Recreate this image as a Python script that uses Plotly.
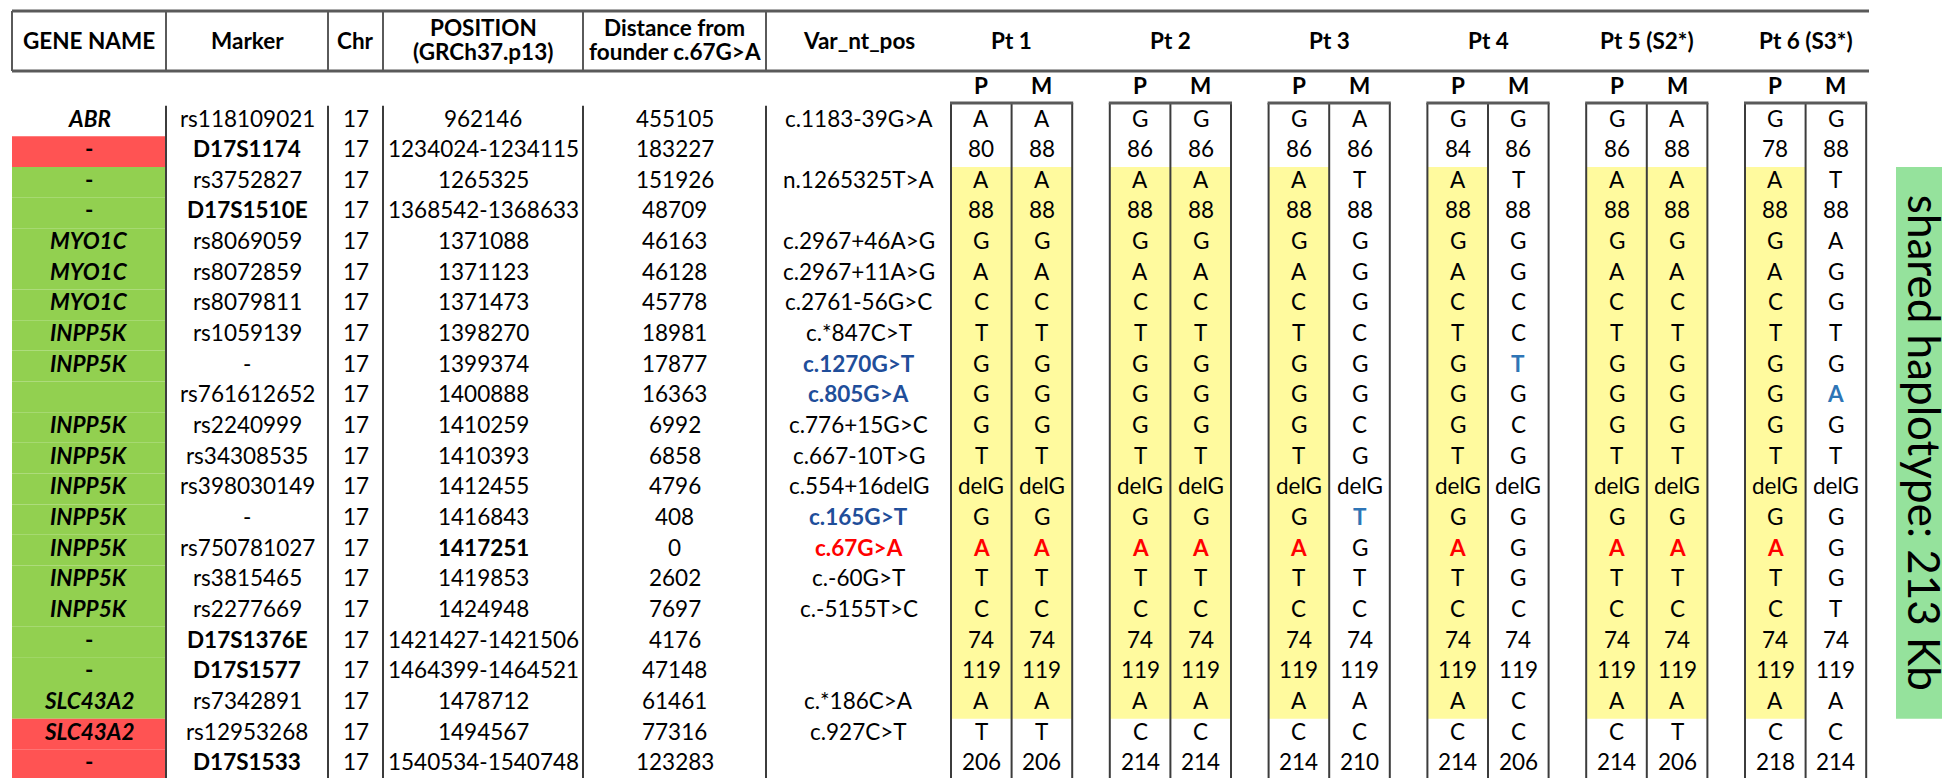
import plotly.graph_objects as go

# ---------------- data ----------------
genes = ["ABR", "-", "-", "-", "MYO1C", "MYO1C", "MYO1C", "INPP5K", "INPP5K", "",
         "INPP5K", "INPP5K", "INPP5K", "INPP5K", "INPP5K", "INPP5K", "INPP5K",
         "-", "-", "SLC43A2", "SLC43A2", "-"]
gene_status = ["none", "out", "in", "in", "in", "in", "in", "in", "in", "in",
               "in", "in", "in", "in", "in", "in", "in", "in", "in", "in", "out", "out"]
markers = ["rs118109021", "D17S1174", "rs3752827", "D17S1510E", "rs8069059", "rs8072859",
           "rs8079811", "rs1059139", "-", "rs761612652", "rs2240999", "rs34308535",
           "rs398030149", "-", "rs750781027", "rs3815465", "rs2277669", "D17S1376E",
           "D17S1577", "rs7342891", "rs12953268", "D17S1533"]
chrom = ["17", "17", "17", "17", "17", "17", "17", "17", "17", "17", "17",
         "17", "17", "17", "17", "17", "17", "17", "17", "17", "17", "17"]
positions = ["962146", "1234024-1234115", "1265325", "1368542-1368633", "1371088", "1371123",
             "1371473", "1398270", "1399374", "1400888", "1410259", "1410393", "1412455",
             "1416843", "1417251", "1419853", "1424948", "1421427-1421506", "1464399-1464521",
             "1478712", "1494567", "1540534-1540748"]
distances = ["455105", "183227", "151926", "48709", "46163", "46128", "45778", "18981", "17877",
             "16363", "6992", "6858", "4796", "408", "0", "2602", "7697", "4176", "47148",
             "61461", "77316", "123283"]
var_pos = ["c.1183-39G>A", "", "n.1265325T>A", "", "c.2967+46A>G", "c.2967+11A>G",
           "c.2761-56G>C", "c.*847C>T", "c.1270G>T", "c.805G>A", "c.776+15G>C", "c.667-10T>G",
           "c.554+16delG", "c.165G>T", "c.67G>A", "c.-60G>T", "c.-5155T>C", "", "",
           "c.*186C>A", "c.927C>T", ""]
var_style = ["", "", "", "", "", "", "", "", "blue", "blue", "", "", "", "blue", "red",
             "", "", "", "", "", "", ""]

patients = ["Pt 1", "Pt 2", "Pt 3", "Pt 4", "Pt 5 (S2*)", "Pt 6 (S3*)"]
pt1_P = ["A", "80", "A", "88", "G", "A", "C", "T", "G", "G", "G", "T", "delG", "G", "A", "T", "C", "74", "119", "A", "T", "206"]
pt1_M = ["A", "88", "A", "88", "G", "A", "C", "T", "G", "G", "G", "T", "delG", "G", "A", "T", "C", "74", "119", "A", "T", "206"]
pt2_P = ["G", "86", "A", "88", "G", "A", "C", "T", "G", "G", "G", "T", "delG", "G", "A", "T", "C", "74", "119", "A", "C", "214"]
pt2_M = ["G", "86", "A", "88", "G", "A", "C", "T", "G", "G", "G", "T", "delG", "G", "A", "T", "C", "74", "119", "A", "C", "214"]
pt3_P = ["G", "86", "A", "88", "G", "A", "C", "T", "G", "G", "G", "T", "delG", "G", "A", "T", "C", "74", "119", "A", "C", "214"]
pt3_M = ["A", "86", "T", "88", "G", "G", "G", "C", "G", "G", "C", "G", "delG", "T", "G", "T", "C", "74", "119", "A", "C", "210"]
pt4_P = ["G", "84", "A", "88", "G", "A", "C", "T", "G", "G", "G", "T", "delG", "G", "A", "T", "C", "74", "119", "A", "C", "214"]
pt4_M = ["G", "86", "T", "88", "G", "G", "C", "C", "T", "G", "C", "G", "delG", "G", "G", "G", "C", "74", "119", "C", "C", "206"]
pt5_P = ["G", "86", "A", "88", "G", "A", "C", "T", "G", "G", "G", "T", "delG", "G", "A", "T", "C", "74", "119", "A", "C", "214"]
pt5_M = ["A", "88", "A", "88", "G", "A", "C", "T", "G", "G", "G", "T", "delG", "G", "A", "T", "C", "74", "119", "A", "T", "206"]
pt6_P = ["G", "78", "A", "88", "G", "A", "C", "T", "G", "G", "G", "T", "delG", "G", "A", "T", "C", "74", "119", "A", "C", "218"]
pt6_M = ["G", "88", "T", "88", "A", "G", "G", "T", "G", "A", "G", "T", "delG", "G", "G", "G", "T", "74", "119", "A", "C", "214"]
alleles = [(pt1_P, pt1_M), (pt2_P, pt2_M), (pt3_P, pt3_M),
           (pt4_P, pt4_M), (pt5_P, pt5_M), (pt6_P, pt6_M)]
# rows carrying the shared haplotype, and which maternal alleles share it
shared_first, shared_last = 2, 19
maternal_shared = [True, True, False, False, True, False]
founder_row = 14
# newly found variants shown in blue: (patient index, allele, row)
blue_cells = [(3, "M", 8), (5, "M", 9), (2, "M", 13)]
haplotype_label = "shared haplotype: 213 Kb"

# ---------------- styling / geometry ----------------
FONT = "Lato"
FS = 22.5
W, H = 1950, 778
ROW0, ROWH = 113.0, 30.65
TXT_DY = -3.0
col_edges = [4, 158, 320, 375, 575, 758, 943]
PT_X0, PT_PITCH, PT_COLW = 943.0, 158.8, 60.6
HDR_TOP, HDR_BOT = 3, 63
BOX_TOP = 95
BODY_BOT = ROW0 + 21.5 * ROWH
LINE = "#3c3c3c"
HLINE = "#5a5a5a"
RED_FILL, GREEN_FILL, YELLOW = "#FF5353", "#92D050", "#FFFA9E"
LABEL_GREEN = "#95E29C"
RED_TXT, BLUE_VAR, BLUE_CELL = "#FF0000", "#1F4E9A", "#2E75B6"

def ry(i):
    return ROW0 + i * ROWH

shapes, annots = [], []

def text(x, y, s, bold=False, italic=False, color="black", size=FS, angle=0):
    if s == "":
        return
    t = s.replace(">", "&gt;")
    if bold:
        t = "<b>" + t + "</b>"
    if italic:
        t = "<i>" + t + "</i>"
    annots.append(dict(x=x, y=y + (TXT_DY if angle == 0 else 0), xref="x", yref="y",
                       text=t, showarrow=False,
                       textangle=angle, xanchor="center", yanchor="middle",
                       font=dict(family=FONT, size=size, color=color)))

def rect(x0, y0, x1, y1, fill=None, lc=None, lw=0):
    shapes.append(dict(type="rect", xref="x", yref="y", x0=x0, y0=y0, x1=x1, y1=y1,
                       fillcolor=fill if fill else "rgba(0,0,0,0)",
                       line=dict(color=lc if lc else "rgba(0,0,0,0)", width=lw), layer="below"))

def line(x0, y0, x1, y1, c=LINE, w=2):
    shapes.append(dict(type="line", xref="x", yref="y", x0=x0, y0=y0, x1=x1, y1=y1,
                       line=dict(color=c, width=w), layer="above"))

# gene column fills
fills = {"out": RED_FILL, "in": GREEN_FILL}
for i, st in enumerate(gene_status):
    if st in fills:
        rect(col_edges[0], ry(i) - ROWH / 2, col_edges[1], ry(i) + ROWH / 2, fill=fills[st])

# yellow shared-haplotype highlight
for k in range(len(patients)):
    px = PT_X0 + k * PT_PITCH
    y0, y1 = ry(shared_first) - ROWH / 2, ry(shared_last) + ROWH / 2
    rect(px, y0, px + PT_COLW, y1, fill=YELLOW)
    if maternal_shared[k]:
        rect(px + PT_COLW, y0, px + 2 * PT_COLW, y1, fill=YELLOW)

# header lines
line(col_edges[0], HDR_TOP, 1861, HDR_TOP, c=HLINE, w=3)
line(col_edges[0], HDR_BOT, 1861, HDR_BOT, c=HLINE, w=3)
for xe in col_edges[:6]:
    line(xe, HDR_TOP, xe, HDR_BOT, c=HLINE, w=2)

# left block body lines
for xe in col_edges[1:6]:
    line(xe, ry(0) - ROWH / 2, xe, BODY_BOT, w=2)
line(col_edges[1], BODY_BOT, col_edges[5], BODY_BOT, w=2)

# patient boxes
for k in range(len(patients)):
    px = PT_X0 + k * PT_PITCH
    line(px, BOX_TOP, px, BODY_BOT)
    line(px + PT_COLW, BOX_TOP, px + PT_COLW, BODY_BOT)
    line(px + 2 * PT_COLW, BOX_TOP, px + 2 * PT_COLW, BODY_BOT)
    line(px, BODY_BOT, px + 2 * PT_COLW, BODY_BOT)
    line(px - 1, BOX_TOP, px + 2 * PT_COLW + 1, BOX_TOP, c=HLINE, w=3)

# shared haplotype label box
rect(1888, ry(shared_first) - ROWH / 2, 1946, ry(shared_last) + ROWH / 2, fill=LABEL_GREEN)
text(1917, (ry(shared_first) + ry(shared_last)) / 2, haplotype_label, size=44, angle=90)

# header texts
centers = [(col_edges[j] + col_edges[j + 1]) / 2 for j in range(6)]
text(centers[0], 35, "GENE NAME", bold=True)
text(centers[1], 35, "Marker", bold=True)
text(centers[2], 35, "Chr", bold=True)
text(centers[3], 22, "POSITION", bold=True)
text(centers[3], 46, "(GRCh37.p13)", bold=True)
text(centers[4], 22, "Distance from", bold=True)
text(centers[4], 46, "founder c.67G>A", bold=True)
text(centers[5], 35, "Var_nt_pos", bold=True)
for k, name in enumerate(patients):
    px = PT_X0 + k * PT_PITCH
    text(px + PT_COLW, 35, name, bold=True)
    text(px + PT_COLW / 2, 80, "P", bold=True)
    text(px + PT_COLW * 1.5, 80, "M", bold=True)

# left block body
for i in range(len(genes)):
    y = ry(i)
    text(centers[0], y, genes[i], bold=True, italic=(genes[i] not in ("-", "")))
    text(centers[1], y, markers[i], bold=markers[i].startswith("D17"))
    text(centers[2], y, chrom[i])
    text(centers[3], y, positions[i], bold=(i == founder_row))
    text(centers[4], y, distances[i])
    st = var_style[i]
    col = {"blue": BLUE_VAR, "red": RED_TXT}.get(st, "black")
    text(centers[5], y, var_pos[i], bold=(st != ""), color=col)

# patient alleles
blue_set = set(blue_cells)
for k, (pa, ma) in enumerate(alleles):
    px = PT_X0 + k * PT_PITCH
    for j, (lab, arr) in enumerate((("P", pa), ("M", ma))):
        cx = px + PT_COLW * (j + 0.5)
        for i, v in enumerate(arr):
            color, bold = "black", False
            if i == founder_row and v == "A":
                color, bold = RED_TXT, True
            if (k, lab, i) in blue_set:
                color, bold = BLUE_CELL, True
            text(cx, ry(i), v, bold=bold, color=color)

fig = go.Figure()
fig.add_trace(go.Scatter(x=[0, W], y=[0, H], mode="markers", marker=dict(opacity=0),
                         hoverinfo="skip", showlegend=False))
fig.update_layout(width=W, height=H, margin=dict(l=0, r=0, t=0, b=0),
                  paper_bgcolor="white", plot_bgcolor="white",
                  xaxis=dict(range=[0, W], visible=False, fixedrange=True),
                  yaxis=dict(range=[H, 0], visible=False, fixedrange=True),
                  shapes=shapes, annotations=annots, showlegend=False)
fig.write_html("out.html", config={"displayModeBar": False})
